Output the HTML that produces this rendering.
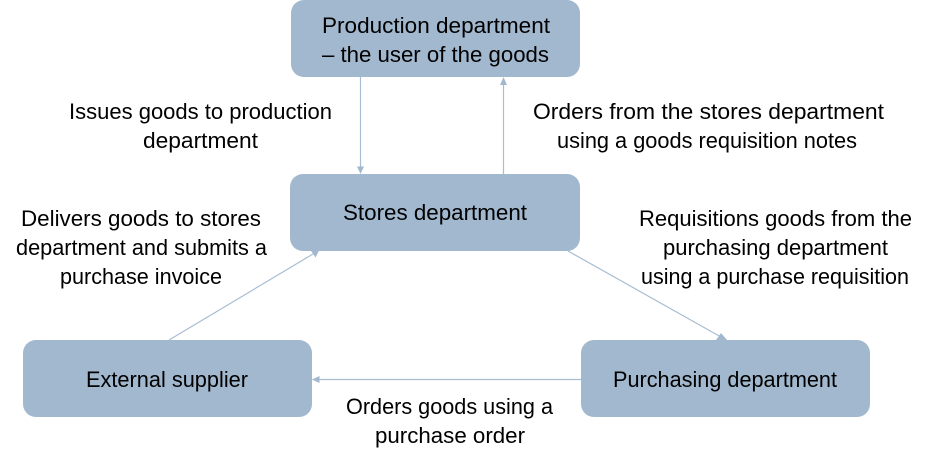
<!DOCTYPE html>
<html>
<head>
<meta charset="utf-8">
<style>
html,body{margin:0;padding:0;background:#fff;width:933px;height:464px;overflow:hidden}
svg{display:block}
text{font-family:"Liberation Sans",sans-serif;font-size:22px;fill:#000}
</style>
</head>
<body>
<svg width="933" height="464" viewBox="0 0 933 464" xmlns="http://www.w3.org/2000/svg">
<rect width="933" height="464" fill="#fff"/>
<g stroke="#a8bdd2" stroke-width="1.2" fill="none">
<line x1="360.5" y1="77" x2="360.5" y2="168"/>
<line x1="503.5" y1="174" x2="503.5" y2="84"/>
<line x1="169" y1="340" x2="313" y2="254"/>
<line x1="568" y1="251" x2="721" y2="337"/>
<line x1="581" y1="379.5" x2="319" y2="379.5"/>
</g>
<g fill="#a2b8ce">
<polygon points="360.5,174 357,166.5 364,166.5"/>
<polygon points="503.5,77 500,85 507,85"/>
<polygon points="319,250.5 315.5,257.5 311,250.8"/>
<polygon points="727,340 716,340 721,333"/>
<polygon points="312,379.5 319.5,376 319.5,383"/>
<rect x="291" y="0" width="289" height="77" rx="13"/>
<rect x="290" y="174" width="290" height="77" rx="13"/>
<rect x="23" y="340" width="289" height="77" rx="13"/>
<rect x="581" y="340" width="289" height="77" rx="13"/>
</g>
<g lengthAdjust="spacingAndGlyphs">
<text x="322" y="33" textLength="228" lengthAdjust="spacingAndGlyphs">Production department</text>
<text x="322" y="62" textLength="227" lengthAdjust="spacingAndGlyphs">– the user of the goods</text>
<text x="343" y="220" textLength="184" lengthAdjust="spacingAndGlyphs">Stores department</text>
<text x="86" y="387" textLength="162" lengthAdjust="spacingAndGlyphs">External supplier</text>
<text x="613" y="387" textLength="224" lengthAdjust="spacingAndGlyphs">Purchasing department</text>
<text x="69" y="119" textLength="263" lengthAdjust="spacingAndGlyphs">Issues goods to production</text>
<text x="143" y="148" textLength="115" lengthAdjust="spacingAndGlyphs">department</text>
<text x="533" y="119" textLength="351" lengthAdjust="spacingAndGlyphs">Orders from the stores department</text>
<text x="557" y="148" textLength="300" lengthAdjust="spacingAndGlyphs">using a goods requisition notes</text>
<text x="21" y="226" textLength="240" lengthAdjust="spacingAndGlyphs">Delivers goods to stores</text>
<text x="16" y="255" textLength="251" lengthAdjust="spacingAndGlyphs">department and submits a</text>
<text x="60" y="284" textLength="162" lengthAdjust="spacingAndGlyphs">purchase invoice</text>
<text x="639" y="226" textLength="273" lengthAdjust="spacingAndGlyphs">Requisitions goods from the</text>
<text x="663" y="255" textLength="225" lengthAdjust="spacingAndGlyphs">purchasing department</text>
<text x="641" y="284" textLength="268" lengthAdjust="spacingAndGlyphs">using a purchase requisition</text>
<text x="346" y="414" textLength="207" lengthAdjust="spacingAndGlyphs">Orders goods using a</text>
<text x="375" y="443" textLength="150" lengthAdjust="spacingAndGlyphs">purchase order</text>
</g>
</svg>
</body>
</html>
